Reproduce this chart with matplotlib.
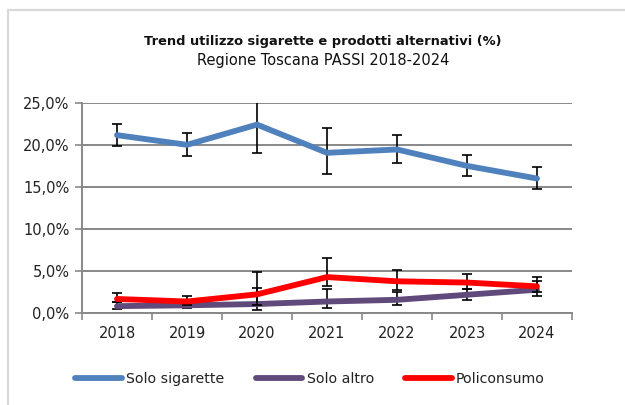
import matplotlib
matplotlib.use("Agg")
import matplotlib.pyplot as plt
from matplotlib.patches import Rectangle
from matplotlib.ticker import FuncFormatter
import numpy as np

years = ["2018", "2019", "2020", "2021", "2022", "2023", "2024"]

solo_sigarette = [21.15, 20.0, 22.4, 19.05, 19.45, 17.5, 16.0]
solo_sigarette_low = [19.85, 18.65, 19.0, 16.5, 17.85, 16.3, 14.7]
solo_sigarette_high = [22.5, 21.35, 25.8, 21.95, 21.15, 18.75, 17.4]

solo_altro = [0.85, 0.95, 1.1, 1.4, 1.6, 2.2, 2.8]
solo_altro_low = [0.5, 0.6, 0.4, 0.6, 1.0, 1.6, 2.1]
solo_altro_high = [1.35, 1.4, 2.97, 2.85, 2.5, 2.9, 3.85]

policonsumo = [1.7, 1.4, 2.25, 4.3, 3.8, 3.65, 3.2]
policonsumo_low = [1.3, 1.0, 1.0, 3.2, 2.8, 2.9, 2.55]
policonsumo_high = [2.45, 2.0, 4.85, 6.6, 5.1, 4.65, 4.3]

y_ticks = [0, 5, 10, 15, 20, 25]

W, H = 625, 405
fig = plt.figure(figsize=(W / 100, H / 100), dpi=100)
font = "DejaVu Sans"
plt.rcParams['font.family'] = [font]

# outer border (right and bottom edges fall outside the picture)
fig.patches.append(Rectangle((8 / W, -0.1), 1.2, 1.1 - 10 / H, transform=fig.transFigure,
                             fill=False, edgecolor="#d9d9d9", linewidth=1.6))

ax = fig.add_axes([82 / W, 1 - 313.3 / H, 490 / W, 210.6 / H])
x = np.arange(len(years))

series = [
    ("Solo sigarette", solo_sigarette, solo_sigarette_low, solo_sigarette_high, "#4F81BD"),
    ("Solo altro", solo_altro, solo_altro_low, solo_altro_high, "#604A7B"),
    ("Policonsumo", policonsumo, policonsumo_low, policonsumo_high, "#FF0000"),
]

for i, (name, v, lo, hi, c) in enumerate(series):
    v = np.array(v); lo = np.array(lo); hi = np.array(hi)
    ax.errorbar(x, v, yerr=[v - lo, hi - v], fmt="none", ecolor="black",
                elinewidth=1.2, capsize=3.6, capthick=1.2, zorder=3 + 2 * i)
    ax.plot(x, v, color=c, linewidth=4.2, label=name, zorder=4 + 2 * i,
            solid_capstyle="round", solid_joinstyle="round")

ax.set_xlim(-0.5, len(years) - 0.5)
ax.set_ylim(0, 25)
ax.set_yticks(y_ticks)
ax.yaxis.set_major_formatter(FuncFormatter(lambda v, p: f"{v:.1f}%".replace(".", ",")))
ax.set_xticks(x)
ax.set_xticklabels(years)
ax.set_xticks(np.arange(-0.5, len(years)), minor=True)
ax.tick_params(axis="x", which="major", length=0, pad=9, labelsize=10.5, labelcolor="#222222")
ax.tick_params(axis="x", which="minor", length=5, color="#888888", width=1.2, direction="out")
ax.tick_params(axis="y", length=5, color="#888888", width=1.2, direction="out", pad=4,
               labelsize=10.5, labelcolor="#222222")

ax.grid(axis="y", color="#888888", linewidth=1.4, zorder=0)
ax.set_axisbelow(True)
for s in ["top", "right"]:
    ax.spines[s].set_visible(False)
for s in ["left", "bottom"]:
    ax.spines[s].set_color("#888888")
    ax.spines[s].set_linewidth(1.4)

fig.text(323 / W, 1 - 42 / H, "Trend utilizzo sigarette e prodotti alternativi (%)",
         ha="center", va="center", fontsize=9.4, fontweight="bold", color="#111111")
fig.text(323 / W, 1 - 61 / H, "Regione Toscana PASSI 2018-2024",
         ha="center", va="center", fontsize=10.5, color="#111111")

leg = fig.legend(loc="center", bbox_to_anchor=(310 / W, 1 - 379 / H), ncol=3,
                 frameon=False, fontsize=10.2, handlelength=3.3, handletextpad=0.3,
                 columnspacing=2.2)
for t in leg.get_texts():
    t.set_color("#222222")

fig.savefig("out.png", dpi=100)
